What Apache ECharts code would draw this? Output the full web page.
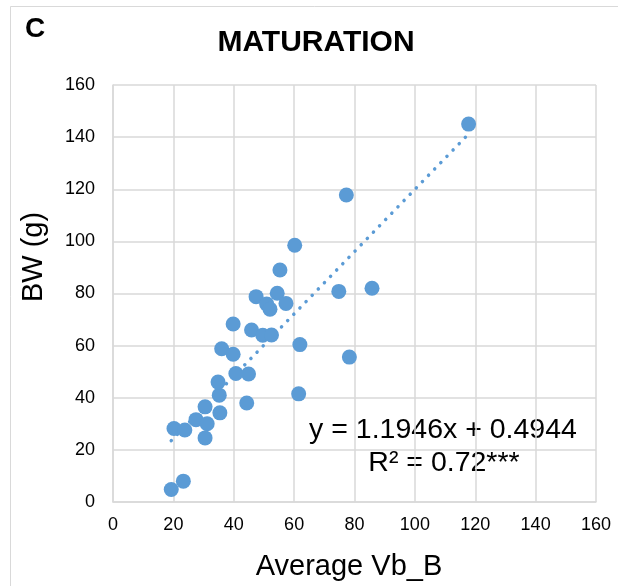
<!DOCTYPE html>
<html>
<head>
<meta charset="utf-8">
<script src="https://cdn.jsdelivr.net/npm/echarts@6/dist/echarts.min.js"></script>
<style>
  html, body { margin: 0; padding: 0; background: #fff; }
  #chart { width: 618px; height: 586px; }
</style>
</head>
<body>
<div id="chart"></div>
<script>
// measured points, Average Vb_B vs BW (g)
const vbB = [19.3, 23.3, 20.2, 23.8, 27.5, 30.5, 31.2, 30.5, 35.4, 35.2, 34.8, 36.0,
  39.8, 39.8, 40.7, 44.9, 44.3, 45.9, 47.4, 49.6, 52.5, 50.9, 52.0, 54.4, 57.3,
  55.3, 61.9, 61.5, 60.2, 74.8, 85.8, 77.3, 78.3, 117.8];
const bw = [4.8, 8.0, 28.2, 27.6, 31.6, 36.5, 30.0, 24.6, 34.2, 41.0, 46.0, 58.8,
  68.3, 56.7, 49.3, 49.1, 38.0, 66.0, 78.8, 64.0, 64.1, 76.0, 74.0, 80.1, 76.2,
  89.0, 60.4, 41.5, 98.5, 80.8, 82.0, 117.8, 55.6, 145.0];
const xTicks = [0, 20, 40, 60, 80, 100, 120, 140, 160];
const yTicks = [0, 20, 40, 60, 80, 100, 120, 140, 160];

// linear trend as printed on the chart
const slope = 1.1946;
const intercept = 0.4944;
const trendX = [19.3, 117.8];
const trendData = trendX.map(x => [x, slope * x + intercept]);

const blue = '#5b9bd5';
const gridGray = '#d9d9d9';
const font = '"Liberation Sans", Arial, sans-serif';

let myChart = echarts.init(document.getElementById('chart'));
let option = {
  animation: false,
  backgroundColor: '#fff',
  textStyle: { fontFamily: font },
  graphic: [
    {
      type: 'rect',
      shape: { x: 10.5, y: 6.5, width: 640, height: 620 },
      style: { fill: 'none', stroke: gridGray, lineWidth: 1 },
      silent: true
    },
    {
      type: 'text', x: 35, y: 29,
      style: { text: 'C', font: 'bold 28px ' + font, fill: '#000', textAlign: 'center', textVerticalAlign: 'middle' }
    },
    {
      type: 'text', x: 316, y: 43,
      style: { text: 'MATURATION', font: 'bold 30px ' + font, fill: '#000', textAlign: 'center', textVerticalAlign: 'middle' }
    },
    {
      type: 'text', x: 34, y: 257, rotation: Math.PI / 2,
      style: { text: 'BW (g)', font: '29px ' + font, fill: '#000', textAlign: 'center', textVerticalAlign: 'middle' }
    },
    {
      type: 'text', x: 349, y: 567,
      style: { text: 'Average Vb_B', font: '29px ' + font, fill: '#000', textAlign: 'center', textVerticalAlign: 'middle' }
    },
    {
      type: 'text', x: 443, y: 430,
      style: { text: 'y = 1.1946x + 0.4944', font: '28.5px ' + font, fill: '#000', textAlign: 'center', textVerticalAlign: 'middle' }
    },
    {
      type: 'text', x: 444, y: 463,
      style: { text: 'R² = 0.72***', font: '28.5px ' + font, fill: '#000', textAlign: 'center', textVerticalAlign: 'middle' }
    }
  ],
  grid: { left: 113, right: 22, top: 85, bottom: 84, containLabel: false },
  xAxis: {
    type: 'value',
    min: xTicks[0],
    max: xTicks[xTicks.length - 1],
    interval: 20,
    axisLine: { show: true, lineStyle: { color: gridGray, width: 1.5 } },
    axisTick: { show: false },
    axisLabel: { fontFamily: font, fontSize: 18, color: '#000', margin: 14 },
    splitLine: { show: true, lineStyle: { color: gridGray, width: 1.5 } }
  },
  yAxis: {
    type: 'value',
    min: yTicks[0],
    max: yTicks[yTicks.length - 1],
    interval: 20,
    axisLine: { show: true, lineStyle: { color: gridGray, width: 1.5 } },
    axisTick: { show: false },
    axisLabel: { fontFamily: font, fontSize: 18, color: '#000', margin: 18 },
    splitLine: { show: true, lineStyle: { color: gridGray, width: 1.5 } }
  },
  series: [
    {
      type: 'line',
      data: trendData,
      symbol: 'none',
      silent: true,
      z: 1,
      lineStyle: { color: blue, width: 3.5, type: [0.1, 8.7], cap: 'round' }
    },
    {
      type: 'scatter',
      data: vbB.map((x, i) => [x, bw[i]]),
      symbolSize: 15,
      z: 2,
      itemStyle: { color: blue, opacity: 1 }
    }
  ]
};
myChart.setOption(option);

// 窗口变化，重绘图像
window.addEventListener('resize', function () {
  myChart.resize();
}, false)
</script>
</body>
</html>
